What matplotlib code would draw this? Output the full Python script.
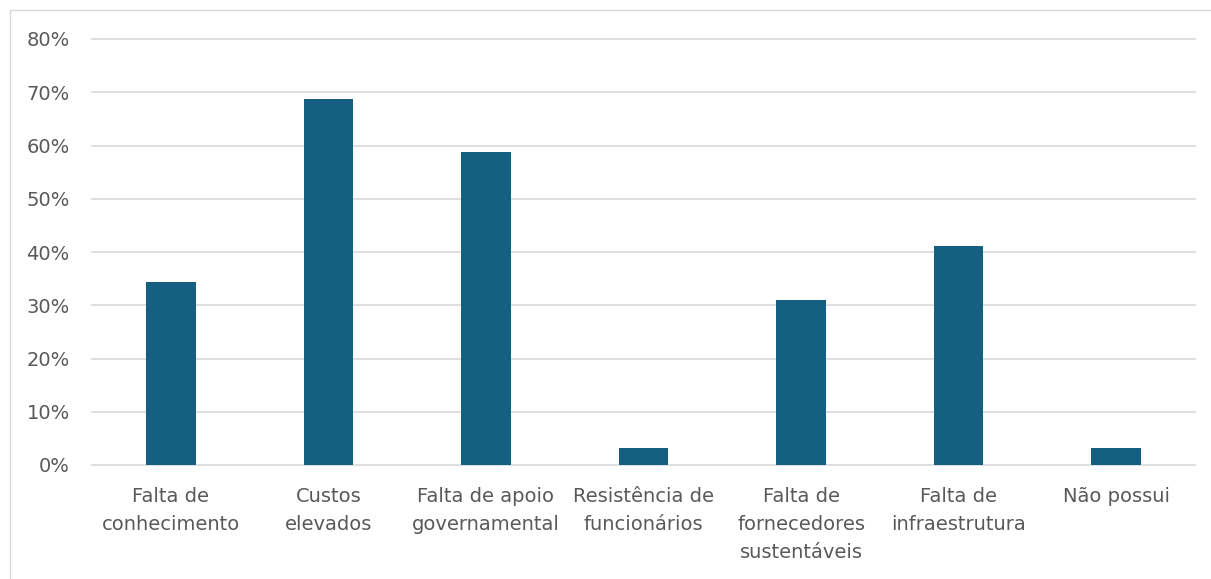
import matplotlib
matplotlib.use("Agg")
import matplotlib.pyplot as plt
from matplotlib.patches import Rectangle
from matplotlib.ticker import PercentFormatter

categories = ["Falta de\nconhecimento", "Custos\nelevados", "Falta de apoio\ngovernamental",
              "Resistência de\nfuncionários", "Falta de\nfornecedores\nsustentáveis",
              "Falta de\ninfraestrutura", "Não possui"]
values = [34.3, 68.8, 58.7, 3.1, 31.0, 41.1, 3.1]
yticks = [0, 10, 20, 30, 40, 50, 60, 70, 80]

plt.rcParams['font.family'] = ['DejaVu Sans']

W, H = 1211, 579
fig = plt.figure(figsize=(W/100, H/100), dpi=100)
fig.patches.append(Rectangle((10/W, -0.1), 1.2, 1.1 - 10/H, transform=fig.transFigure,
                             fill=False, edgecolor="#d9d9d9", linewidth=1.0))
ax = fig.add_axes([92/W, 1-465/H, (1195-92)/W, (465-39)/H])
x = list(range(len(categories)))
ax.bar(x, values, width=0.315, color="#156082", zorder=3)
ax.set_xlim(-0.5, len(categories)-0.5)
ax.set_ylim(0, 80)
ax.set_yticks(yticks)
ax.yaxis.set_major_formatter(PercentFormatter(decimals=0))
ax.grid(axis="y", color="#d9d9d9", linewidth=1.2, zorder=0)
for gl in ax.get_ygridlines():
    gl.set_clip_on(False)
for s in ax.spines.values():
    s.set_visible(False)
ax.tick_params(axis="both", length=0, colors="#595959", labelsize=14)
ax.tick_params(axis="y", pad=16)
ax.tick_params(axis="x", pad=16)
ax.set_xticks(x)
ax.set_xticklabels(categories, linespacing=1.6)
fig.savefig("out.png", dpi=100)
